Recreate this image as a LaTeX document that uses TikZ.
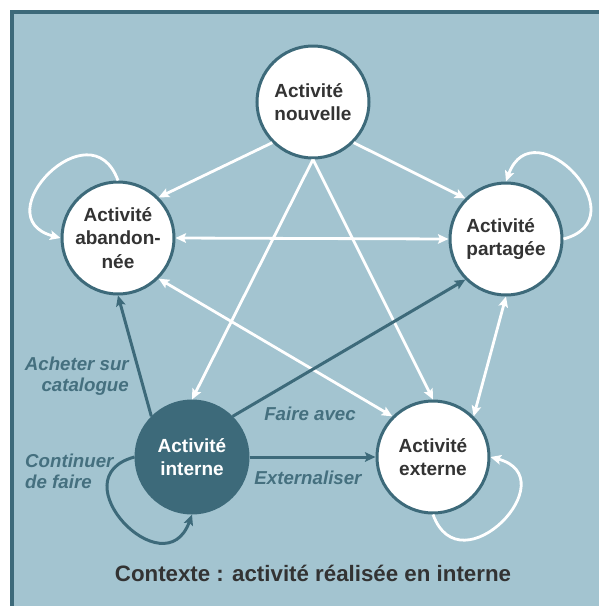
\documentclass[tikz,border=0pt]{standalone}
\usepackage{fontspec}
\setmainfont{Liberation Sans}
\usetikzlibrary{arrows.meta}
\definecolor{bgblue}{HTML}{A3C4D0}
\definecolor{darkteal}{HTML}{3D6A7A}
\definecolor{labelteal}{HTML}{45707F}
\definecolor{textgray}{HTML}{333333}

\begin{document}
\begin{tikzpicture}[x=1pt,y=1pt,
    >={Stealth[length=10.5pt,width=9.5pt,inset=2pt]},
    state/.style={circle,draw=darkteal,line width=3pt,fill=white,minimum size=112pt,inner sep=0pt,
        text=textgray,font=\fontsize{19}{23.5}\selectfont\bfseries,align=center},
    instate/.style={state,fill=darkteal,text=white},
    whiteline/.style={draw=white,line width=2.8pt},
    darkline/.style={draw=darkteal,line width=3pt},
    edgelabel/.style={inner sep=0pt,text=labelteal,font=\fontsize{18.7}{21}\selectfont\bfseries\itshape}]

    \useasboundingbox (0,0) rectangle (599,-606);
    \fill[bgblue] (12,-12) rectangle (605,-612);
    \draw[darkteal,line width=3.4pt] (12,-612) -- (12,-12) -- (605,-12);

    \node[state,align=left] (nouvelle) at (313,-102) {Activité\\nouvelle};
    \node[state] (abandonnee) at (118,-238) {Activité\\abandon-\\née};
    \node[state,align=left] (partagee) at (506,-239) {Activité\\partagée};
    \node[instate] (interne) at (192,-457) {Activité\\interne};
    \node[state] (externe) at (433,-457) {Activité\\externe};

    \draw[whiteline,->] (nouvelle.-135) -- (abandonnee.45);
    \draw[whiteline,->] (nouvelle.-45) -- (partagee.135);
    \draw[whiteline,->] (nouvelle.south) -- (interne.north);
    \draw[whiteline,->] (nouvelle.south) -- (externe.north);
    \draw[whiteline,<->] (abandonnee.east) -- (partagee.west);
    \draw[whiteline,<->] (abandonnee.-45) -- (externe.135);
    \draw[whiteline,<->] (partagee.south) -- (externe.45);
    \draw[whiteline,->] (abandonnee.north) .. controls +(110:80) and +(165:80) .. (abandonnee.west);
    \draw[whiteline,->] (partagee.east) .. controls +(15:80) and +(70:80) .. (partagee.north);
    \draw[whiteline,->] (externe.south) .. controls +(-70:80) and +(-15:80) .. (externe.east);

    \draw[darkline,->] (interne.135) -- (abandonnee.south);
    \draw[darkline,->] (interne.45) -- (partagee.-135);
    \draw[darkline,->] (interne.east) -- (externe.west);
    \draw[darkline,->] (interne.west) .. controls +(195:80) and +(250:80) .. (interne.south);

    \node[edgelabel,anchor=east,align=right] (acheter) at (129,-376) {Acheter sur\\catalogue};
    \node[edgelabel] (faireavec) at (310,-414) {Faire avec};
    \node[edgelabel,anchor=west,align=left] (continuer) at (25,-471) {Continuer\\de faire};
    \node[edgelabel] (externaliser) at (308,-478) {Externaliser};
    \node[text=textgray,font=\fontsize{22.3}{26}\selectfont\bfseries] (contexte) at (313,-573)
        {Contexte : activité réalisée en interne};
\end{tikzpicture}
\end{document}
